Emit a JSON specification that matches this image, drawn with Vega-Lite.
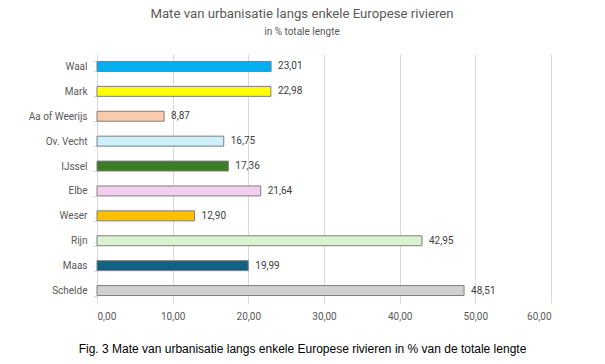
{
  "$schema": "https://vega.github.io/schema/vega-lite/v6.json",
  "width": 454,
  "height": 249,
  "autosize": {"type": "none"},
  "padding": {"left": 97, "top": 54, "right": 54, "bottom": 61},
  "background": "white",
  "config": {
    "locale": {"number": {"decimal": ",", "thousands": ".", "grouping": [3], "currency": ["€", ""]}},
    "font": "Roboto",
    "view": {"stroke": null}
  },
  "title": {
    "text": "Mate van urbanisatie langs enkele Europese rivieren",
    "subtitle": "in % totale lengte",
    "fontSize": 13.2,
    "fontWeight": "normal",
    "color": "#595959",
    "subtitleFontSize": 10,
    "subtitleColor": "#595959",
    "subtitlePadding": 6,
    "dx": -22,
    "offset": 11,
    "font": "Roboto",
    "subtitleFont": "Roboto"
  },
  "data": {
    "values": [
      {"rivier": "Waal", "waarde": 23.01, "kleur": "#00B0F0"},
      {"rivier": "Mark", "waarde": 22.98, "kleur": "#FFFF00"},
      {"rivier": "Aa of Weerijs", "waarde": 8.87, "kleur": "#F8CBAD"},
      {"rivier": "Ov. Vecht", "waarde": 16.75, "kleur": "#CCEFFA"},
      {"rivier": "IJssel", "waarde": 17.36, "kleur": "#3B7D23"},
      {"rivier": "Elbe", "waarde": 21.64, "kleur": "#F2CEEF"},
      {"rivier": "Weser", "waarde": 12.90, "kleur": "#FFC000"},
      {"rivier": "Rijn", "waarde": 42.95, "kleur": "#DAF2D0"},
      {"rivier": "Maas", "waarde": 19.99, "kleur": "#156082"},
      {"rivier": "Schelde", "waarde": 48.51, "kleur": "#D0D0D0"}
    ]
  },
  "encoding": {
    "y": {
      "field": "rivier",
      "type": "nominal",
      "sort": null,
      "scale": {"paddingInner": 0.6, "paddingOuter": 0.3},
      "axis": {
        "title": null,
        "labelFontSize": 10,
        "labelColor": "#595959",
        "labelPadding": 6,
        "tickBand": "extent",
        "tickSize": 4,
        "tickColor": "#d9d9d9",
        "domainColor": "#d9d9d9",
        "grid": false
      }
    }
  },
  "layer": [
    {
      "mark": {"type": "bar", "stroke": "#7f7f7f", "strokeWidth": 1},
      "encoding": {
        "x": {
          "field": "waarde",
          "type": "quantitative",
          "scale": {"domain": [0, 60]},
          "axis": {
            "title": "Fig. 3 Mate van urbanisatie langs enkele Europese rivieren in % van de totale lengte",
            "titleFont": "Liberation Sans",
            "titleFontSize": 12,
            "titleFontWeight": "normal",
            "titleColor": "#000000",
            "titleX": 205,
            "titleY": 45,
            "titleBaseline": "middle",
            "titleAnchor": "middle",
            "values": [0, 10, 20, 30, 40, 50, 60],
            "format": ".2f",
            "labelFontSize": 10,
            "labelColor": "#595959",
            "labelPadding": 8,
            "domain": false,
            "ticks": false,
            "gridColor": "#d9d9d9",
            "gridWidth": 1
          }
        },
        "fill": {"field": "kleur", "type": "nominal", "scale": null}
      }
    },
    {
      "mark": {"type": "text", "align": "left", "dx": 7, "fontSize": 10, "color": "#404040"},
      "encoding": {
        "x": {"field": "waarde", "type": "quantitative"},
        "text": {"field": "waarde", "type": "quantitative", "format": ".2f"}
      }
    }
  ]
}
